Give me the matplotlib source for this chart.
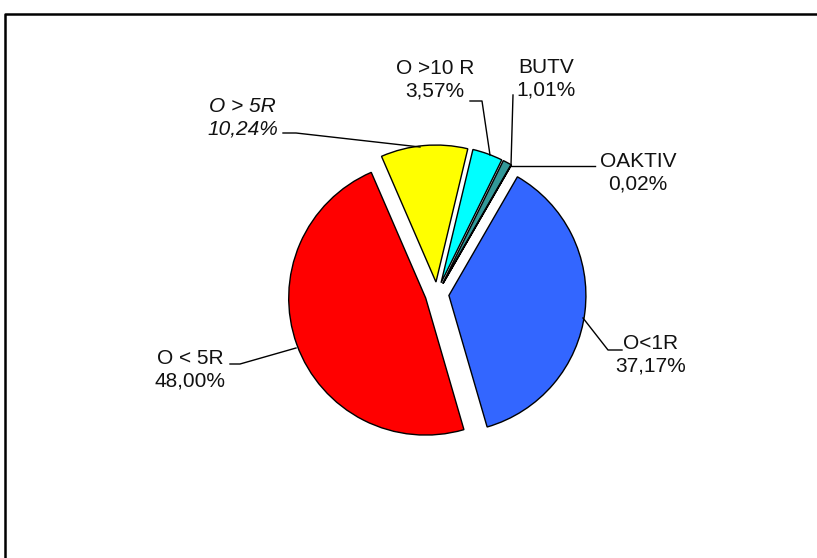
import matplotlib
matplotlib.use("Agg")
import matplotlib.pyplot as plt
from matplotlib.lines import Line2D

# ---- data ----
categories = ["O<1R", "O < 5R", "O > 5R", "O >10 R", "BUTV", "OAKTIV"]
values = [37.17, 48.00, 10.24, 3.57, 1.01, 0.02]
colors = ["#3366FF", "#FF0000", "#FFFF00", "#00FFFF", "#339999", "#993366"]

# ---- layout (pixel coords, y from top) ----
W, H = 817, 558
center_px = (437, 294)
radius = 137
explode_px = 12
label_pos = [(651, 355), (190, 369.5), (242.5, 117.5), (435, 79.5), (546.5, 78.5), (638, 172.5)]
label_italic = [False, False, True, False, False, False]
leaders = [
    [(583, 318), (608, 350), (622, 350)],
    [(296, 348), (240, 364), (230, 364)],
    [(420, 147), (296, 133), (283, 133)],
    [(490, 155), (482, 101), (470, 101)],
    [(511, 165), (513, 95)],
    [(511, 166), (595, 166)],
]

def fy(y):
    return H - y

fig = plt.figure(figsize=(W / 100, H / 100), dpi=100)
ax = fig.add_axes([0, 0, 1, 1])

ax.pie(values, colors=colors, startangle=60, counterclock=False,
       explode=[explode_px] * len(values), radius=radius,
       center=(center_px[0], fy(center_px[1])),
       wedgeprops=dict(edgecolor="black", linewidth=1.0))

ax.set_xlim(0, W)
ax.set_ylim(0, H)
ax.set_aspect("equal")
ax.axis("off")

for cat, v, (x, y), it in zip(categories, values, label_pos, label_italic):
    txt = cat + "\n" + f"{v:.2f}".replace(".", ",") + "%"
    ax.text(x, fy(y), txt, ha="center", va="center", fontsize=15,
            family="Liberation Sans", style="italic" if it else "normal",
            linespacing=1.22, color="#111111")

for pts in leaders:
    xs = [p[0] for p in pts]
    ys = [fy(p[1]) for p in pts]
    ax.add_line(Line2D(xs, ys, color="black", linewidth=1.0))

# frame
ax.add_line(Line2D([5.5, 5.5, W + 5], [-5, fy(13.5), fy(13.5)], color="black",
                   linewidth=1.8, clip_on=False))

fig.savefig("out.png", dpi=100)
